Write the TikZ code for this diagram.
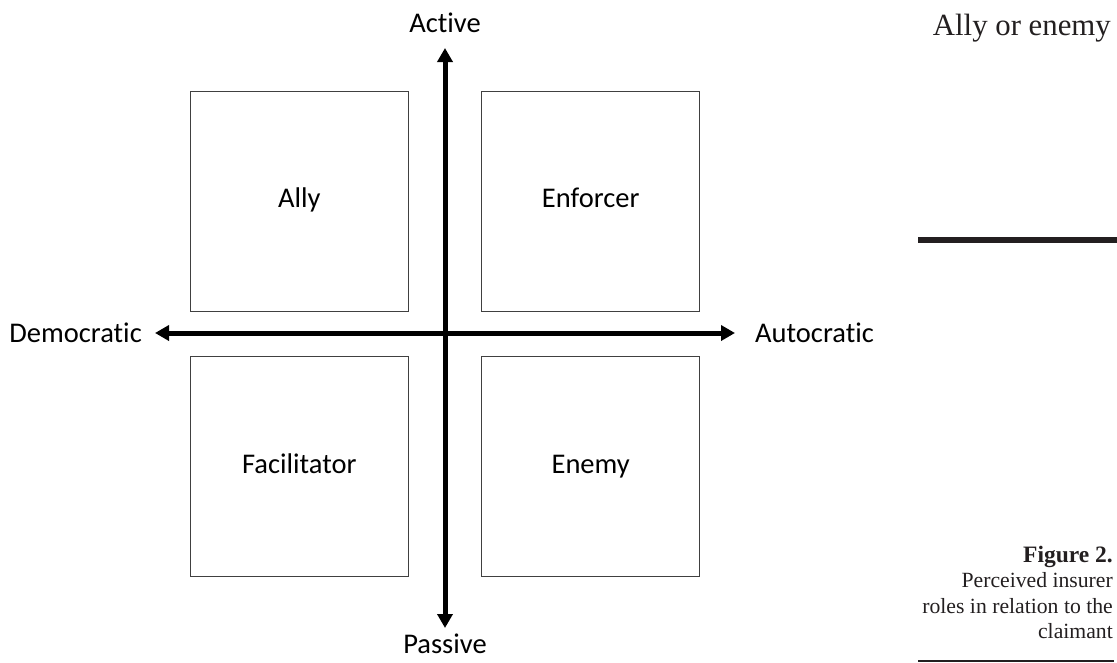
\documentclass[tikz,border=0pt]{standalone}
\usepackage{fontspec}
\setmainfont{Liberation Serif}
\newfontfamily\calib[Ligatures=NoCommon]{Carlito}
\usetikzlibrary{positioning,arrows.meta}
\definecolor{inkgray}{HTML}{231F20}
\tikzset{
	role/.style={draw=black!75, line width=1.4pt, minimum width=218pt, minimum height=220pt, inner sep=0pt, text height=18pt, text depth=5pt, font=\calib\fontsize{28.5}{33}\selectfont},
	pole/.style={inner sep=2pt, font=\calib\fontsize{28.5}{33}\selectfont},
	axis/.style={line width=5pt, {Triangle[length=14pt,width=15pt]}-{Triangle[length=14pt,width=15pt]}},
	rule/.style={draw=inkgray, line width=#1},
}

\begin{document}
\begin{tikzpicture}[x=1pt,y=-1pt]
	\useasboundingbox (0,0) rectangle (1117,662);
	\coordinate (o) at (445,333);
	\node[role, above left=21pt and 36pt of o] (ally) {Ally};
	\node[role, above right=21pt and 36pt of o] (enforcer) {Enforcer};
	\node[role, below left=23pt and 36pt of o] (facilitator) {Facilitator};
	\node[role, below right=23pt and 36pt of o] (enemy) {Enemy};
	
	\coordinate[above=285pt of o] (n);
	\coordinate[below=295pt of o] (s);
	\coordinate[left=290pt of o] (w);
	\coordinate[right=290pt of o] (e);
	\node[pole, above=13pt of n] (active) {Active};
	\node[pole, below=4pt of s] (passive) {Passive};
	\node[pole, left=11pt of w] (democratic) {Democratic};
	\node[pole, right=18pt of e] (autocratic) {Autocratic};
	
	\draw[axis] (s) -- (n);
	\draw[axis] (w) -- (e);
	
	\node[anchor=base east, inner sep=0pt, text=inkgray, font=\fontsize{30.8}{36}\selectfont] (title) at (1111,35) {Ally or enemy};
	\coordinate (rulea) at (918,240);
	\coordinate (ruleb) at (1117,240);
	\draw[rule=6.5pt] (rulea) -- (ruleb);
	\node[anchor=north east, inner sep=0pt, align=right, text=inkgray, font=\fontsize{21.7}{25.3}\selectfont] (caption) at (1113,546) {{\fontsize{23.5}{25.3}\selectfont\textbf{Figure 2.}}\\Perceived insurer\\roles in relation to the\\claimant};
	\coordinate (rulec) at (918,661);
	\coordinate (ruled) at (1114,661);
	\draw[rule=2pt] (rulec) -- (ruled);
\end{tikzpicture}
\end{document}
